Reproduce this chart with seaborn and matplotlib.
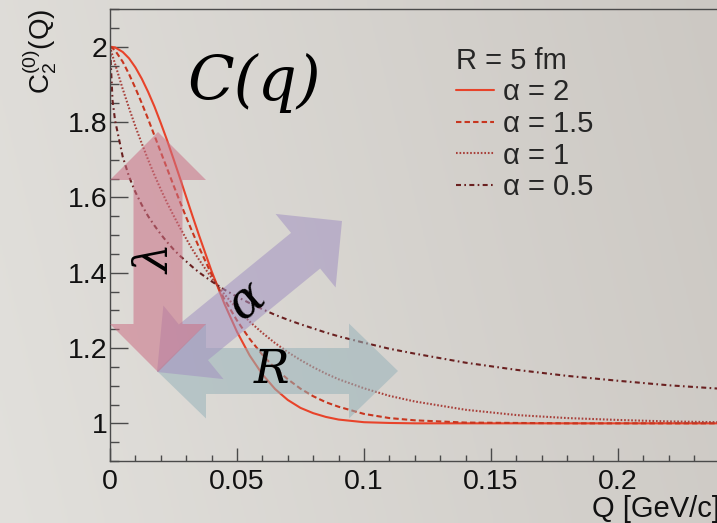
import numpy as np
import pandas as pd
import matplotlib
matplotlib.use("Agg")
import matplotlib.pyplot as plt
import seaborn as sns
from matplotlib.patches import Polygon
from matplotlib.ticker import MultipleLocator

# values, C2(Q) for R = 5 fm
q_vals = [0, 0.001, 0.002, 0.005, 0.0075, 0.01, 0.0125, 0.015, 0.0175, 0.02, 0.0225, 0.025,
          0.0275, 0.03, 0.0325, 0.035, 0.04, 0.045, 0.05, 0.055, 0.06, 0.065, 0.07, 0.075,
          0.08, 0.085, 0.09, 0.1, 0.11, 0.12, 0.14, 0.16, 0.18, 0.2, 0.22, 0.24]
c_alpha_2 = [2.000, 1.999, 1.998, 1.986, 1.969, 1.945, 1.915, 1.880, 1.841, 1.797, 1.751, 1.702,
             1.652, 1.601, 1.550, 1.500, 1.404, 1.318, 1.243, 1.180, 1.130, 1.091, 1.062, 1.041,
             1.027, 1.017, 1.010, 1.003, 1.001, 1.000, 1.000, 1.000, 1.000, 1.000, 1.000, 1.000]
c_alpha_15 = [2.000, 1.996, 1.990, 1.960, 1.927, 1.890, 1.850, 1.808, 1.764, 1.720, 1.676, 1.632,
              1.589, 1.547, 1.507, 1.468, 1.395, 1.330, 1.273, 1.224, 1.182, 1.146, 1.117, 1.092,
              1.072, 1.056, 1.044, 1.025, 1.014, 1.008, 1.002, 1.001, 1.000, 1.000, 1.000, 1.000]
c_alpha_1 = [2.000, 1.976, 1.954, 1.888, 1.837, 1.788, 1.743, 1.700, 1.659, 1.621, 1.585, 1.552,
             1.520, 1.490, 1.461, 1.435, 1.386, 1.343, 1.304, 1.270, 1.240, 1.213, 1.189, 1.168,
             1.149, 1.132, 1.117, 1.093, 1.073, 1.058, 1.036, 1.022, 1.014, 1.009, 1.005, 1.003]
c_alpha_05 = [2.000, 1.857, 1.804, 1.708, 1.655, 1.614, 1.580, 1.550, 1.525, 1.502, 1.481, 1.462,
              1.445, 1.430, 1.415, 1.401, 1.377, 1.355, 1.336, 1.319, 1.303, 1.288, 1.275, 1.263,
              1.252, 1.241, 1.231, 1.214, 1.198, 1.185, 1.161, 1.142, 1.126, 1.113, 1.101, 1.092]
series_labels = ["α = 2", "α = 1.5", "α = 1", "α = 0.5"]
x_ticks = [0, 0.05, 0.1, 0.15, 0.2]
x_tick_labels = ["0", "0.05", "0.1", "0.15", "0.2"]
y_ticks = [1, 1.2, 1.4, 1.6, 1.8, 2]
y_tick_labels = ["1", "1.2", "1.4", "1.6", "1.8", "2"]

W, H = 717, 523

sns.set_theme(style="ticks")
plt.rcParams["font.family"] = ["Liberation Sans", "DejaVu Sans"]
plt.rcParams["mathtext.fontset"] = "custom"
plt.rcParams["mathtext.rm"] = "Liberation Sans"
plt.rcParams["mathtext.it"] = "Liberation Sans:italic"

df = pd.concat([
    pd.DataFrame({"Q": q_vals, "C2": vals, "alpha": lab})
    for vals, lab in zip([c_alpha_2, c_alpha_15, c_alpha_1, c_alpha_05], series_labels)
])

fig = plt.figure(figsize=(W / 100, H / 100), dpi=100)

# grey gradient background
bg = fig.add_axes([0, 0, 1, 1], zorder=-10)
gx = np.linspace(0, 1, 256)
gy = np.linspace(0, 1, 64)[:, None]
left = np.array([0.885, 0.878, 0.862])
right = np.array([0.800, 0.785, 0.765])
t = np.clip(gx[None, :] * 0.85 + (1 - gy) * 0.15, 0, 1)[..., None]
bg.imshow(left * (1 - t) + right * t, extent=[0, 1, 0, 1], aspect="auto")
bg.axis("off")


def px(x, y):
    return (x / W, 1 - y / H)


ax_w = (0.25 * 2540) / W
ax = fig.add_axes([110 / W, 62 / H, ax_w, 452 / H])
ax.set_facecolor("none")

palette = {"α = 2": "#e8432a", "α = 1.5": "#c8361f", "α = 1": "#a8403a", "α = 0.5": "#6a2020"}
dashes = {"α = 2": "", "α = 1.5": (2.6, 1.5), "α = 1": (0.8, 0.9), "α = 0.5": (2.4, 1.6, 0.8, 1.6)}
sns.lineplot(data=df, x="Q", y="C2", hue="alpha", style="alpha", hue_order=series_labels,
             style_order=series_labels, palette=palette, dashes=dashes, linewidth=1.5, ax=ax)

ax.set_xlim(0, 0.25)
ax.set_ylim(0.9, 2.1)
ax.set_xticks(x_ticks, x_tick_labels)
ax.set_yticks(y_ticks, y_tick_labels)
ax.xaxis.set_minor_locator(MultipleLocator(0.01))
ax.yaxis.set_minor_locator(MultipleLocator(0.05))
ax.set_xlabel("")
ax.set_ylabel("")
ax.tick_params(which="both", direction="in", color="#4a4a4a", width=1.0, labelsize=20.5,
               labelcolor="#111111")
ax.tick_params(axis="x", which="major", length=9.5, pad=6)
ax.tick_params(axis="x", which="minor", length=4.5)
ax.tick_params(axis="y", which="major", length=13, pad=2)
ax.tick_params(axis="y", which="minor", length=6.5)
for side in ["left", "bottom", "top"]:
    ax.spines[side].set_visible(True)
    ax.spines[side].set_color("#4a4a4a")
    ax.spines[side].set_linewidth(1.0)
ax.spines["right"].set_visible(False)

handles, labels = ax.get_legend_handles_labels()
ax.legend(handles, labels, title="R = 5 fm", loc="upper left",
          bbox_to_anchor=px(456, 47), bbox_transform=fig.transFigure, frameon=False,
          fontsize=21, title_fontsize=21, handlelength=1.3, handletextpad=0.3,
          labelspacing=0.12, borderpad=0, borderaxespad=0, alignment="left")

fig.text(*px(40, 9), r"C$_2^{(0)}$(Q)", rotation=90, ha="center", va="top", fontsize=20,
         color="#111111")
fig.text(*px(592, 517), "Q [GeV/c]", ha="left", va="baseline", fontsize=21, color="#111111")


def double_arrow(p0, p1, shaft_w, head_w, head_l, color):
    p0 = np.array(p0, float)
    p1 = np.array(p1, float)
    d = (p1 - p0) / np.linalg.norm(p1 - p0)
    n = np.array([-d[1], d[0]])
    a = p0 + d * head_l
    b = p1 - d * head_l
    pts = [p0, a + n * head_w / 2, a + n * shaft_w / 2, b + n * shaft_w / 2, b + n * head_w / 2,
           p1, b - n * head_w / 2, b - n * shaft_w / 2, a - n * shaft_w / 2, a - n * head_w / 2]
    poly = Polygon([px(*p) for p in pts], closed=True, transform=fig.transFigure,
                   facecolor=color, edgecolor="none", alpha=0.55, zorder=5)
    fig.add_artist(poly)


double_arrow((157, 371), (398, 371), 46, 95, 49, "#98b3ba")
double_arrow((157, 372), (342, 221), 46, 95, 47, "#a292c1")
double_arrow((158, 132), (158, 372), 49, 96, 48, "#cb7085")

serif = dict(family="DejaVu Serif", style="italic", color="black", zorder=6)
fig.text(*px(188, 100), "C(q)", ha="left", va="baseline", fontsize=44, **serif)
fig.text(*px(157, 259), "λ", ha="center", va="center", fontsize=34, rotation=90, **serif)
fig.text(*px(247, 300), "α", ha="center", va="center", fontsize=36, rotation=39, **serif)
fig.text(*px(272, 370), "R", ha="center", va="center", fontsize=34, **serif)

fig.savefig("out.png", dpi=100)
